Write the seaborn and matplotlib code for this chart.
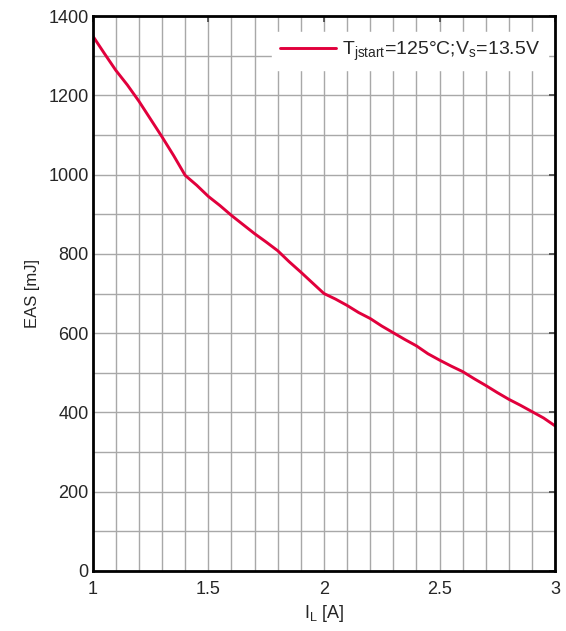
import matplotlib
matplotlib.use("Agg")
from matplotlib import pyplot as plt
from matplotlib.ticker import MultipleLocator
import seaborn as sns
import numpy as np
import pandas as pd

# values
current = [1.00, 1.05, 1.10, 1.15, 1.20, 1.25, 1.30, 1.35, 1.40, 1.45,
           1.50, 1.55, 1.60, 1.65, 1.70, 1.75, 1.80, 1.85, 1.90, 1.95,
           2.00, 2.05, 2.10, 2.15, 2.20, 2.25, 2.30, 2.35, 2.40, 2.45,
           2.50, 2.55, 2.60, 2.65, 2.70, 2.75, 2.80, 2.85, 2.90, 2.95, 3.00]
eas = [1350, 1306, 1263, 1226, 1185, 1140, 1095, 1048, 998, 973,
       945, 922, 897, 874, 851, 830, 808, 780, 754, 727,
       700, 686, 670, 652, 637, 618, 601, 584, 568, 548,
       532, 517, 503, 485, 468, 450, 433, 418, 402, 386, 366]
series_name = r"T$_{\mathrm{jstart}}$=125°C;V$_{\mathrm{s}}$=13.5V"

df = pd.DataFrame({"IL": current, "EAS": eas, "series": series_name})

sns.set_style("white")
plt.rcParams["font.family"] = ["Liberation Sans", "DejaVu Sans"]
plt.rcParams["mathtext.fontset"] = "custom"
plt.rcParams["mathtext.rm"] = "Liberation Sans"
plt.rcParams["mathtext.it"] = "Liberation Sans"

fig = plt.figure(figsize=(5.66, 6.31), dpi=100)
ax = fig.add_axes([0.1638, 0.0951, 0.817, 0.8795])

sns.lineplot(data=df, x="IL", y="EAS", hue="series", palette=["#e1003c"],
             linewidth=2.1, ax=ax)

ax.set_xlim(1, 3)
ax.set_ylim(0, 1400)
ax.xaxis.set_major_locator(MultipleLocator(0.5))
ax.xaxis.set_minor_locator(MultipleLocator(0.1))
ax.yaxis.set_major_locator(MultipleLocator(200))
ax.yaxis.set_minor_locator(MultipleLocator(100))
ax.set_xticks([1, 1.5, 2, 2.5, 3], ["1", "1.5", "2", "2.5", "3"])

ax.grid(True, which="both", color="#a8a8a8", linewidth=1.0)
ax.set_axisbelow(True)
ax.tick_params(which="both", direction="in", top=True, right=True,
               labelsize=13, color="#444444")
ax.tick_params(which="major", length=4, width=1.2)
ax.tick_params(axis="x", which="major", pad=7)
ax.tick_params(axis="y", which="major", pad=3)
ax.tick_params(which="minor", length=0)
for s in ax.spines.values():
    s.set_linewidth(2.0)
    s.set_color("black")

ax.set_xlabel(r"I$_{\mathrm{L}}$ [A]", fontsize=13, labelpad=4)
ax.set_ylabel("EAS [mJ]", fontsize=12, labelpad=6)

leg = ax.legend(loc="upper right", bbox_to_anchor=(0.985, 0.972),
                fontsize=14, frameon=True, fancybox=False,
                handlelength=2.9, borderaxespad=0.0, borderpad=0.4,
                handletextpad=0.3)
leg.get_frame().set_edgecolor("white")
leg.get_frame().set_facecolor("white")
leg.get_frame().set_alpha(1.0)

fig.savefig("out.png", dpi=100)
